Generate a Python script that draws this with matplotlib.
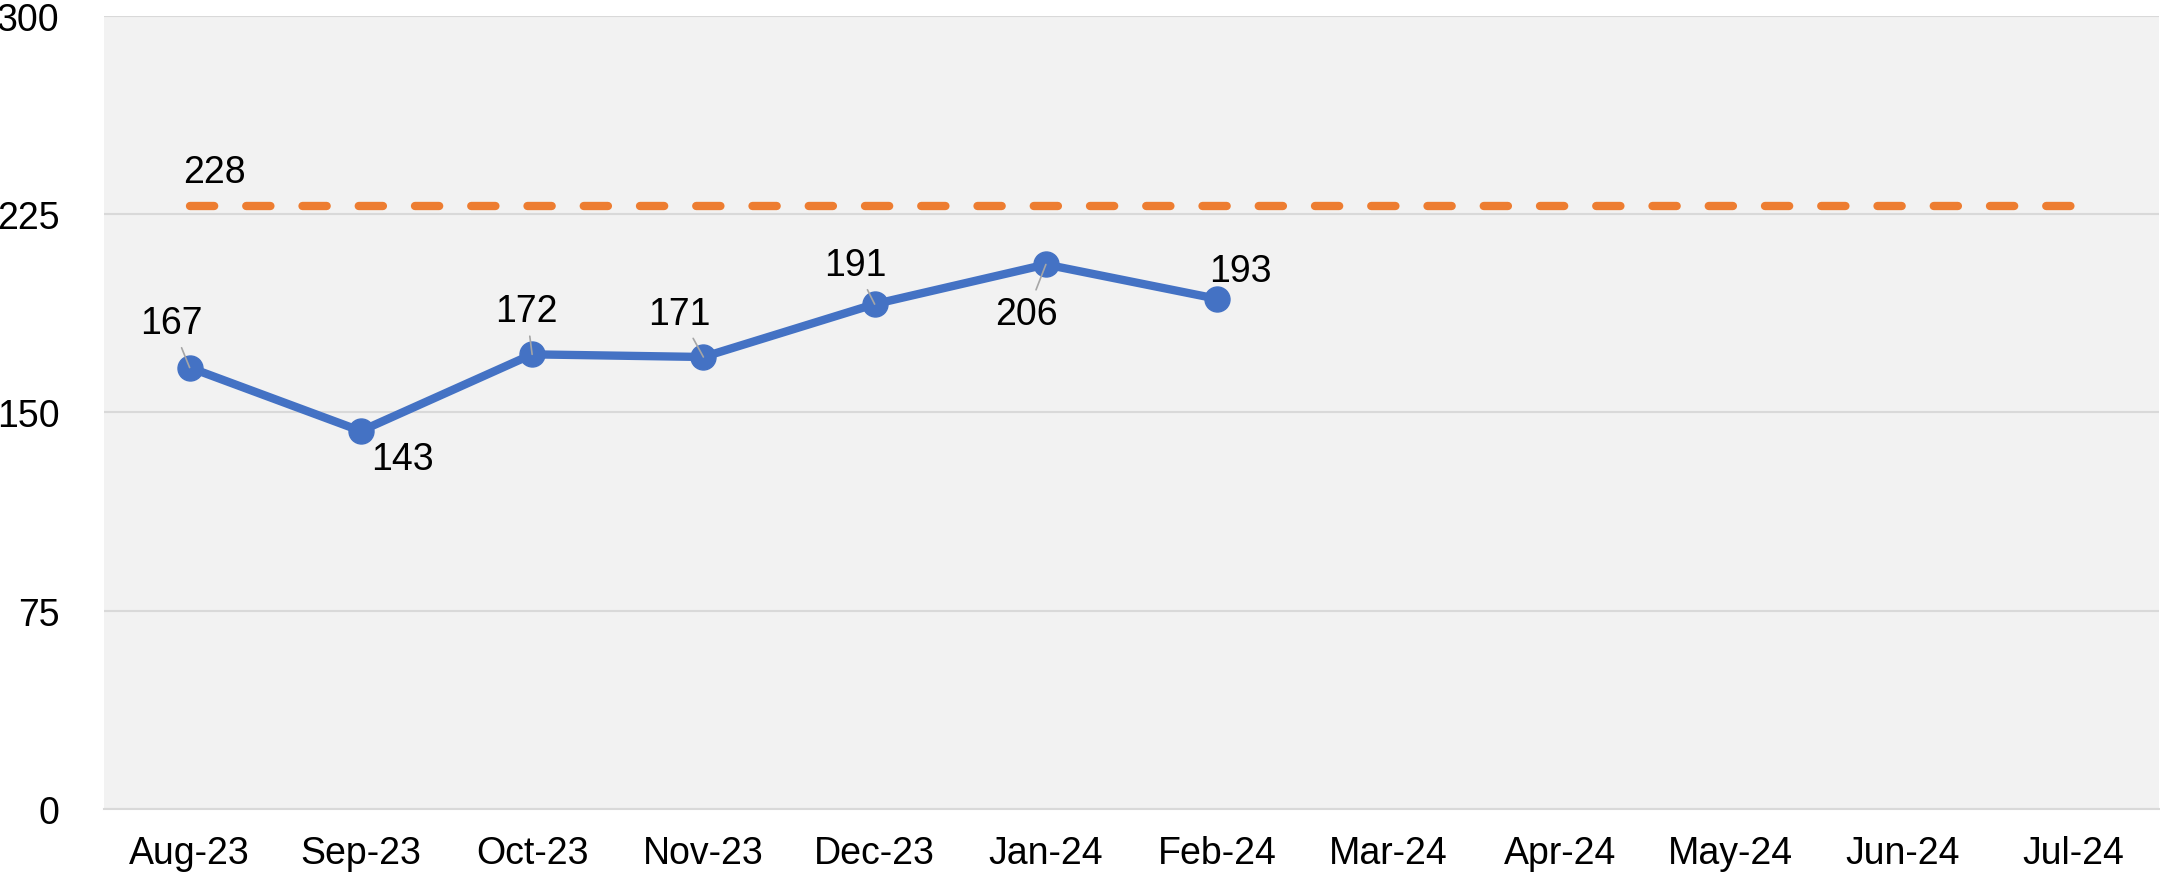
import matplotlib
matplotlib.use('Agg')
import matplotlib.pyplot as plt

plt.rcParams['font.family'] = ['Liberation Sans', 'DejaVu Sans']

months = ['Aug-23', 'Sep-23', 'Oct-23', 'Nov-23', 'Dec-23', 'Jan-24',
          'Feb-24', 'Mar-24', 'Apr-24', 'May-24', 'Jun-24', 'Jul-24']
actual = [167, 143, 172, 171, 191, 206, 193]
target = [228] * 12
yticks = [0, 75, 150, 225, 300]

# label offsets (points) and whether a leader line is drawn
label_offsets = [(-13, 32, True), (30, -20, False), (-4, 31, True), (-17, 31, True),
                 (-14, 28, True), (-14, -36, True), (17, 20, False)]

BLUE = '#4472C4'
ORANGE = '#ED7D31'
GRID = '#D9D9D9'

fig = plt.figure(figsize=(21.6, 8.78), dpi=100)
ax = fig.add_axes([104/2160, 68/878, 2055/2160, 793/878])
ax.set_facecolor('#F2F2F2')

x_all = list(range(len(months)))
ax.plot(x_all, target, color=ORANGE, lw=6, dashes=(2.9, 3.85),
        dash_capstyle='round', zorder=3)
ax.annotate(str(target[0]), (0, target[0]), xytext=(18, 25), textcoords='offset points',
            ha='center', va='center', fontsize=27)

ax.plot(x_all[:len(actual)], actual, color=BLUE, lw=6, marker='o', markersize=18,
        solid_capstyle='round', zorder=4)

for i, v in enumerate(actual):
    dx, dy, leader = label_offsets[i]
    arrow = None
    if leader:
        arrow = dict(arrowstyle='-', color='#A6A6A6', lw=1.2, shrinkA=3, shrinkB=0)
    ax.annotate(str(v), (i, v), xytext=(dx, dy), textcoords='offset points',
                ha='center', va='center', fontsize=27, arrowprops=arrow, zorder=5)

ax.set_xlim(-0.5, len(months) - 0.5)
ax.set_ylim(0, 300)
ax.set_xticks(x_all)
ax.set_xticklabels(months)
ax.set_yticks(yticks)
ax.tick_params(axis='both', length=0, labelsize=27)
ax.tick_params(axis='x', pad=19)
ax.tick_params(axis='y', pad=32)
ax.grid(axis='y', color=GRID, lw=1.5)
ax.set_axisbelow(True)
for s in ['top', 'right', 'left']:
    ax.spines[s].set_visible(False)
ax.spines['bottom'].set_color(GRID)
ax.spines['bottom'].set_linewidth(1.5)

fig.savefig('out.png', dpi=100, facecolor='white')
